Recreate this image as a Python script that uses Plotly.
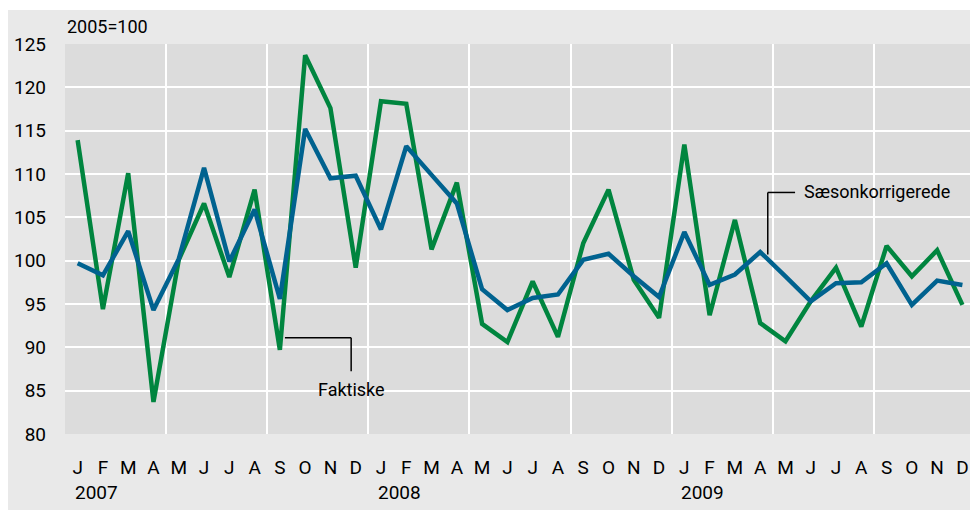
import plotly.graph_objects as go

months = ["J", "F", "M", "A", "M", "J", "J", "A", "S", "O", "N", "D"] * 3
years = ["2007", "2008", "2009"]
faktiske = [113.9, 94.4, 110.1, 83.7, 100.1, 106.6, 98.1, 108.2, 89.7, 123.7, 117.6, 99.2,
            118.4, 118.1, 101.3, 109.0, 92.7, 90.6, 97.6, 91.2, 102.0, 108.2, 97.8, 93.4,
            113.4, 93.7, 104.7, 92.8, 90.7, 95.3, 99.2, 92.4, 101.7, 98.2, 101.2, 94.9]
saeson = [99.7, 98.3, 103.4, 94.3, 100.2, 110.7, 99.9, 105.9, 95.6, 115.2, 109.5, 109.8,
          103.6, 113.2, 109.9, 106.6, 96.7, 94.3, 95.7, 96.1, 100.1, 100.8, 98.2, 95.8,
          103.3, 97.2, 98.4, 101.0, 98.2, 95.3, 97.4, 97.5, 99.7, 94.9, 97.7, 97.2]
yticks = [80, 85, 90, 95, 100, 105, 110, 115, 120, 125]

x = list(range(len(months)))
FONT = "Roboto, sans-serif"
GREEN = "#00853f"
BLUE = "#00628f"

W, H = 962, 502
L, R, T, B = 57, 0, 36, 76
PH = H - T - B

fig = go.Figure()
fig.add_trace(go.Scatter(x=x, y=faktiske, mode="lines", line=dict(color=GREEN, width=4.5),
                         name="Faktiske", hoverinfo="skip"))
fig.add_trace(go.Scatter(x=x, y=saeson, mode="lines", line=dict(color=BLUE, width=4.5),
                         name="Sæsonkorrigerede", hoverinfo="skip"))

# thin white strip at the very top
fig.add_shape(type="rect", xref="paper", yref="paper", x0=-0.1, x1=1.1,
              y0=1 + (T - 2) / PH, y1=1 + (T + 2) / PH, fillcolor="white", line_width=0, layer="below")

# callouts
lw = dict(color="black", width=1.5)
fig.add_shape(type="line", x0=8.2, x1=10.82, y0=91.1, y1=91.1, line=lw)
fig.add_shape(type="line", x0=10.82, x1=10.82, y0=91.1, y1=87.25, line=lw)
fig.add_annotation(x=10.82, y=85.1, text="Faktiske", showarrow=False,
                   font=dict(family=FONT, size=18, color="black"), xanchor="center", yanchor="middle")
fig.add_shape(type="line", x0=27.3, x1=27.3, y0=107.87, y1=100.7, line=lw)
fig.add_shape(type="line", x0=27.3, x1=28.38, y0=107.87, y1=107.87, line=lw)
fig.add_annotation(x=28.65, y=108.0, text="Sæsonkorrigerede", showarrow=False,
                   font=dict(family=FONT, size=18, color="black"), xanchor="left", yanchor="middle")

fig.add_annotation(xref="paper", yref="paper", x=0, y=1 + (T - 19) / PH, text="2005=100",
                   showarrow=False, xanchor="left", yanchor="middle",
                   font=dict(family=FONT, size=18, color="black"))
for i, yr in enumerate(years):
    fig.add_annotation(x=12 * i - 0.2, yref="paper", y=-58.5 / PH, text=yr,
                       showarrow=False, xanchor="left", yanchor="middle",
                       font=dict(family=FONT, size=19, color="black"))

fig.update_layout(
    width=W, height=H,
    margin=dict(l=L, r=R, t=T, b=B, pad=0),
    paper_bgcolor="#e9e9e9", plot_bgcolor="#dcdcdc",
    showlegend=False,
    font=dict(family=FONT, size=19, color="black"),
    xaxis=dict(range=[-0.5, 35.3], tickmode="array", tickvals=x, ticktext=months,
               showgrid=False, zeroline=False, showline=False, ticks="",
               ticklabelstandoff=20,
               minor=dict(tickvals=[-0.5 + 4 * k for k in range(10)], showgrid=True,
                          gridcolor="white", gridwidth=2, ticks="")),
    yaxis=dict(range=[80, 125], tickvals=yticks, showgrid=True, gridcolor="white", gridwidth=2,
               zeroline=False, showline=False, ticks="", ticklabelstandoff=18),
)

fig.write_html("out.html")
